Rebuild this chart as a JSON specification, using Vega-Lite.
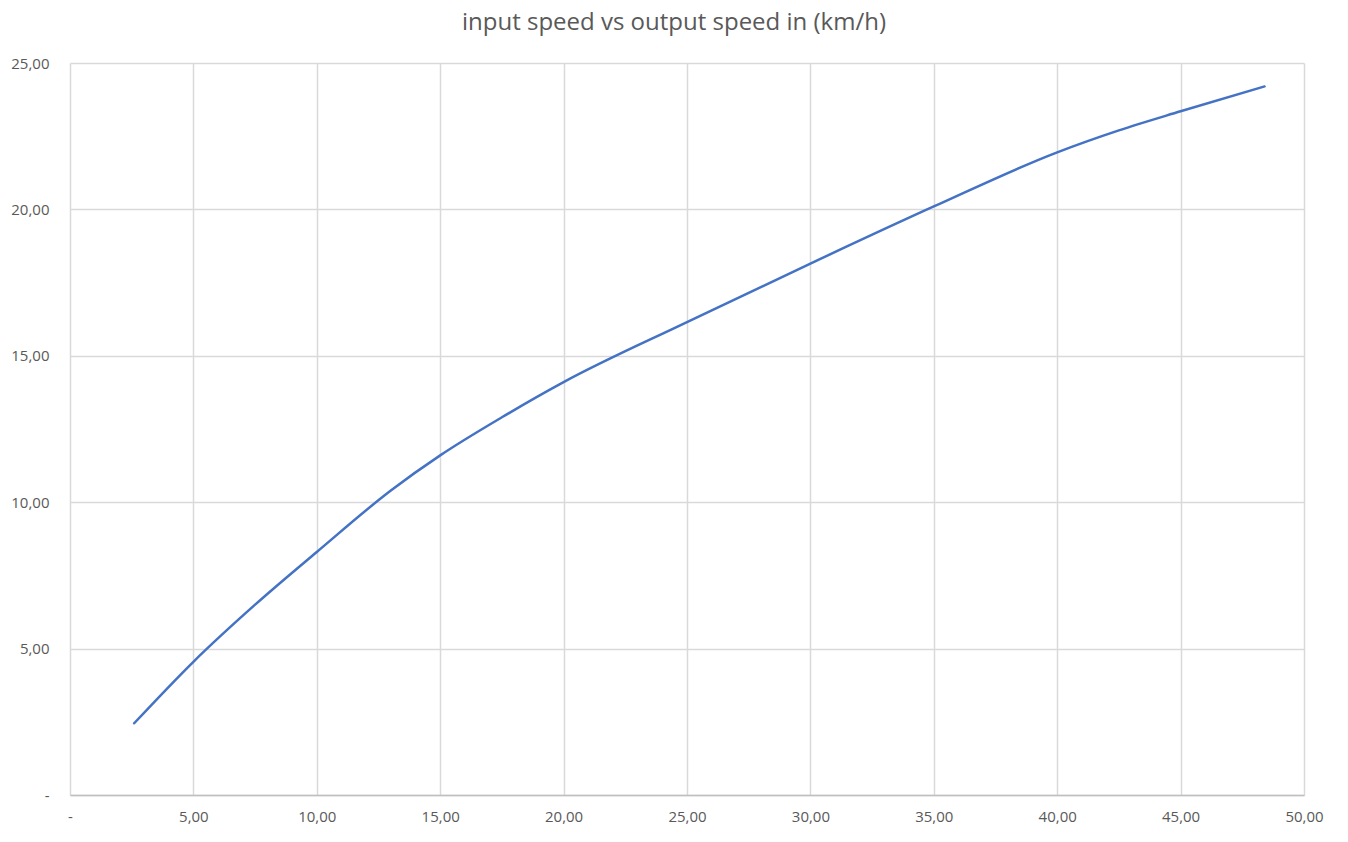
{
  "$schema": "https://vega.github.io/schema/vega-lite/v6.json",
  "width": 1234,
  "height": 732,
  "autosize": {"type": "none"},
  "padding": {"left": 70, "top": 63, "right": 44, "bottom": 47},
  "background": "white",
  "title": {
    "text": "input speed vs output speed in (km/h)",
    "font": "Open Sans",
    "fontSize": 24,
    "fontWeight": "normal",
    "color": "#595959",
    "anchor": "middle",
    "dx": -13,
    "offset": 21
  },
  "config": {
    "view": {"stroke": null},
    "axis": {
      "labelFont": "Open Sans",
      "labelFontSize": 15,
      "labelColor": "#595959",
      "gridColor": "#d9d9d9",
      "gridWidth": 1.5,
      "ticks": false,
      "title": null
    }
  },
  "data": {
    "values": [
      {"input": 2.6, "output": 2.45},
      {"input": 5.0, "output": 4.55},
      {"input": 7.5, "output": 6.5},
      {"input": 10.0, "output": 8.3},
      {"input": 13.0, "output": 10.4},
      {"input": 15.0, "output": 11.6},
      {"input": 17.5, "output": 12.9},
      {"input": 20.0, "output": 14.1},
      {"input": 25.0, "output": 16.15},
      {"input": 30.0, "output": 18.15},
      {"input": 35.0, "output": 20.1},
      {"input": 40.0, "output": 21.95},
      {"input": 42.5, "output": 22.7},
      {"input": 45.0, "output": 23.35},
      {"input": 48.4, "output": 24.2}
    ]
  },
  "mark": {"type": "line", "color": "#4472C4", "strokeWidth": 2.5, "interpolate": "monotone", "strokeCap": "round"},
  "encoding": {
    "x": {
      "field": "input",
      "type": "quantitative",
      "scale": {"domain": [0, 50], "nice": false, "zero": true},
      "axis": {
        "values": [0, 5, 10, 15, 20, 25, 30, 35, 40, 45, 50],
        "labelExpr": "datum.value == 0 ? '-' : replace(format(datum.value, '.2f'), '.', ',')",
        "labelPadding": 14,
        "domainColor": "#bfbfbf",
        "domainWidth": 1.5,
        "labelFlush": false
      }
    },
    "y": {
      "field": "output",
      "type": "quantitative",
      "scale": {"domain": [0, 25], "nice": false},
      "axis": {
        "values": [0, 5, 10, 15, 20, 25],
        "labelExpr": "datum.value == 0 ? '-' : replace(format(datum.value, '.2f'), '.', ',')",
        "labelPadding": 21,
        "domain": false,
        "labelFlush": false
      }
    }
  }
}
